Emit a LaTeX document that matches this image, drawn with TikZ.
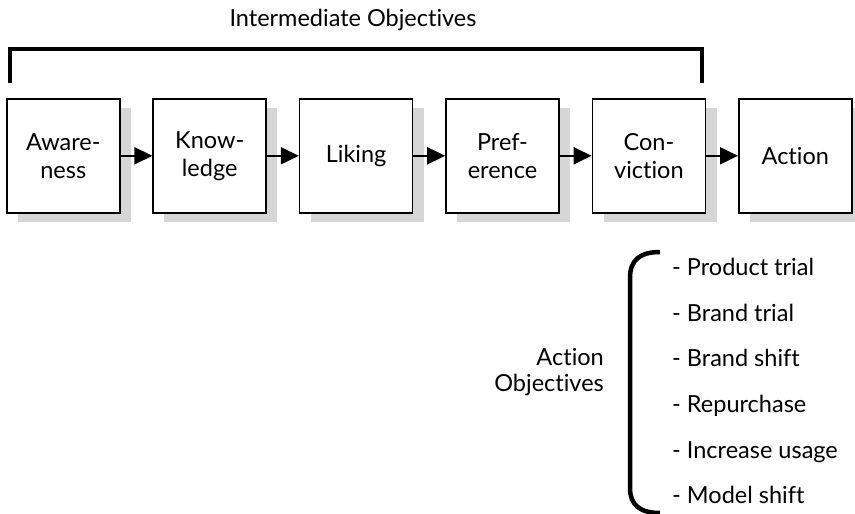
\documentclass[tikz,border=0pt]{standalone}
\usepackage{fontspec}
\setmainfont{Lato}[Ligatures={NoCommon,NoRare,NoContextual}]
\usetikzlibrary{arrows.meta}
\begin{document}
\begin{tikzpicture}[x=1pt,y=-1pt,
  stagebox/.style={draw=black,line width=1.6pt,fill=white,minimum width=113pt,minimum height=114pt,
    align=center,font=\fontsize{23.5}{28}\selectfont,inner sep=0pt},
  shadowbox/.style={fill=black!16,draw=none},
  flow/.style={line width=2pt,-{Triangle[length=18pt,width=17pt]}},
  bracketline/.style={line width=4.5pt},
  lbl/.style={font=\fontsize{23.5}{26}\selectfont,inner sep=0pt},
  item/.style={font=\fontsize{23.5}{26}\selectfont,inner sep=0pt,anchor=base west}]
\useasboundingbox (0,0) rectangle (855,514);
% stage boxes with drop shadows
\foreach \i/\name/\txt in {0/aw/Aware-\\ness,1/kn/Know-\\ledge,2/li/Liking,3/pr/Pref-\\erence,4/co/Con-\\viction,5/ac/Action}{
  \pgfmathsetmacro{\xl}{6+146.4*\i}
  \fill[shadowbox] (\xl+12,108) rectangle (\xl+125,222);
  \node[stagebox,anchor=north west] (\name) at (\xl,98) {\txt};
}
% arrows between stages
\draw[flow] (aw.east) -- (kn.west);
\draw[flow] (kn.east) -- (li.west);
\draw[flow] (li.east) -- (pr.west);
\draw[flow] (pr.east) -- (co.west);
\draw[flow] (co.east) -- (ac.west);
% bracket over the intermediate stages
\coordinate (bl) at (10,83);
\coordinate (br) at (702,83);
\draw[bracketline] (bl) -- (10,49) -- (702,49) -- (br);
\node[lbl] (inter) at (353,20) {Intermediate Objectives};
% action objectives and curly brace
\node[lbl,align=right,anchor=east,font=\fontsize{23.5}{26}\selectfont] (actobj) at (604,372) {Action\\Objectives};
\coordinate (btop) at (660,252);
\coordinate (bbot) at (660,513);
\draw[line width=4.5pt] (btop) .. controls (640,252) and (630,260) .. (630,278) -- (630,488)
  .. controls (630,505) and (640,513) .. (bbot);
\node[item] (i1) at (672,275) {- Product trial};
\node[item] (i2) at (672,321) {- Brand trial};
\node[item] (i3) at (672,366) {- Brand shift};
\node[item] (i4) at (672,412) {- Repurchase};
\node[item] (i5) at (672,458) {- Increase usage};
\node[item] (i6) at (672,503) {- Model shift};
\end{tikzpicture}
\end{document}
